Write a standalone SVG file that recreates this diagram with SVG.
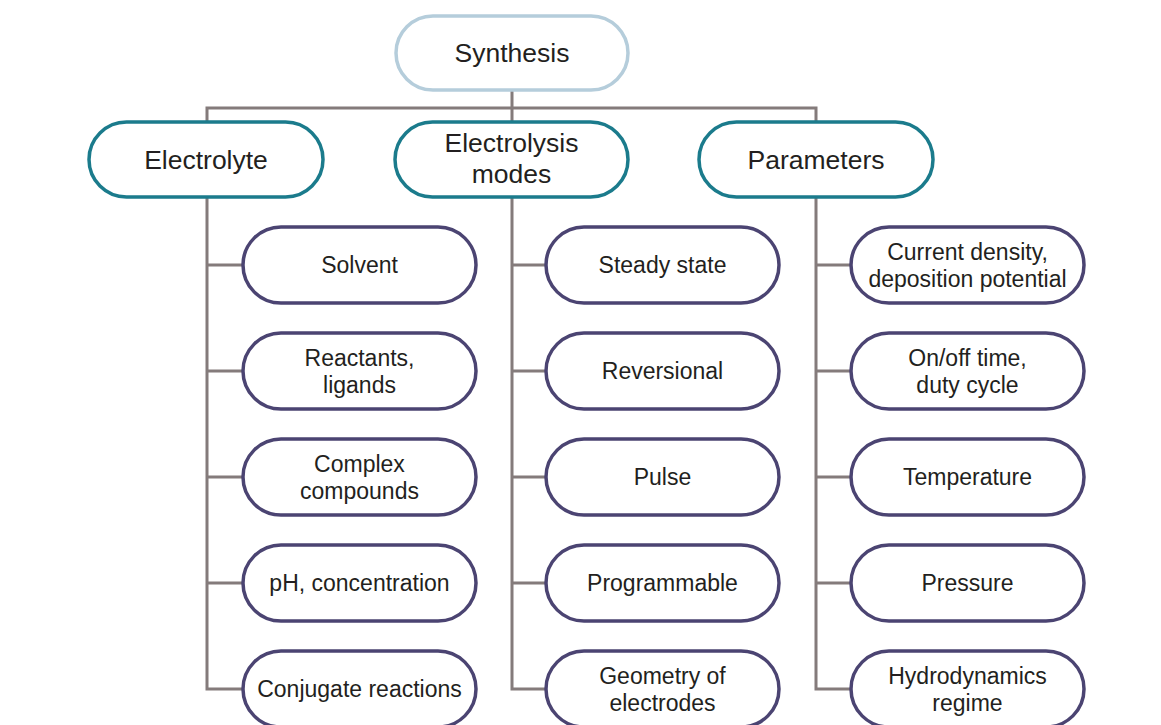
<svg xmlns="http://www.w3.org/2000/svg" width="1161" height="725" viewBox="0 0 1161 725">
<style>
.root{fill:#fff;stroke:#b5cddb;stroke-width:3.5}
.main{fill:#fff;stroke:#1b7b8c;stroke-width:3.5}
.child{fill:#fff;stroke:#4b4472;stroke-width:3.5}
.conn{fill:none;stroke:#847b7b;stroke-width:3}
text{font-family:"Liberation Sans",Arial,sans-serif;fill:#231f20;text-anchor:middle}
.t1{font-size:26.5px}
.t2{font-size:23px}
</style>
<rect width="1161" height="725" fill="#fff"/>
<g id="connectors">
<path class="conn" d="M512 90V122M207 122V108H816V122"/>
<path class="conn" d="M207 197V689H243M207 265H243M207 371H243M207 477H243M207 583H243"/>
<path class="conn" d="M512 197V689H546M512 265H546M512 371H546M512 477H546M512 583H546"/>
<path class="conn" d="M816 197V689H851M816 265H851M816 371H851M816 477H851M816 583H851"/>
</g>
<g id="synthesis"><rect class="root" x="396" y="16" width="232" height="74" rx="37"/><text class="t1" x="512" y="62">Synthesis</text></g>
<g id="electrolyte"><rect class="main" x="89" y="122" width="234" height="75" rx="37.5"/><text class="t1" x="206" y="169">Electrolyte</text></g>
<g id="modes"><rect class="main" x="395" y="122" width="233" height="75" rx="37.5"/><text class="t1" x="511.5" y="152">Electrolysis</text><text class="t1" x="511.5" y="183">modes</text></g>
<g id="parameters"><rect class="main" x="699" y="122" width="234" height="75" rx="37.5"/><text class="t1" x="816" y="169">Parameters</text></g>

<g id="solvent"><rect class="child" x="243" y="227" width="233" height="76" rx="38"/><text class="t2" x="359.5" y="273">Solvent</text></g>
<g id="reactants"><rect class="child" x="243" y="333" width="233" height="76" rx="38"/><text class="t2" x="359.5" y="366">Reactants,</text><text class="t2" x="359.5" y="393">ligands</text></g>
<g id="complex"><rect class="child" x="243" y="439" width="233" height="76" rx="38"/><text class="t2" x="359.5" y="472">Complex</text><text class="t2" x="359.5" y="499">compounds</text></g>
<g id="ph"><rect class="child" x="243" y="545" width="233" height="76" rx="38"/><text class="t2" x="359.5" y="591">pH, concentration</text></g>
<g id="conjugate"><rect class="child" x="243" y="651" width="233" height="76" rx="38"/><text class="t2" x="359.5" y="697">Conjugate reactions</text></g>

<g id="steady"><rect class="child" x="546" y="227" width="233" height="76" rx="38"/><text class="t2" x="662.5" y="273">Steady state</text></g>
<g id="reversional"><rect class="child" x="546" y="333" width="233" height="76" rx="38"/><text class="t2" x="662.5" y="379">Reversional</text></g>
<g id="pulse"><rect class="child" x="546" y="439" width="233" height="76" rx="38"/><text class="t2" x="662.5" y="485">Pulse</text></g>
<g id="programmable"><rect class="child" x="546" y="545" width="233" height="76" rx="38"/><text class="t2" x="662.5" y="591">Programmable</text></g>
<g id="geometry"><rect class="child" x="546" y="651" width="233" height="76" rx="38"/><text class="t2" x="662.5" y="684">Geometry of</text><text class="t2" x="662.5" y="711">electrodes</text></g>

<g id="current"><rect class="child" x="851" y="227" width="233" height="76" rx="38"/><text class="t2" x="967.5" y="260">Current density,</text><text class="t2" x="967.5" y="287">deposition potential</text></g>
<g id="onoff"><rect class="child" x="851" y="333" width="233" height="76" rx="38"/><text class="t2" x="967.5" y="366">On/off time,</text><text class="t2" x="967.5" y="393">duty cycle</text></g>
<g id="temperature"><rect class="child" x="851" y="439" width="233" height="76" rx="38"/><text class="t2" x="967.5" y="485">Temperature</text></g>
<g id="pressure"><rect class="child" x="851" y="545" width="233" height="76" rx="38"/><text class="t2" x="967.5" y="591">Pressure</text></g>
<g id="hydro"><rect class="child" x="851" y="651" width="233" height="76" rx="38"/><text class="t2" x="967.5" y="684">Hydrodynamics</text><text class="t2" x="967.5" y="711">regime</text></g>
</svg>
